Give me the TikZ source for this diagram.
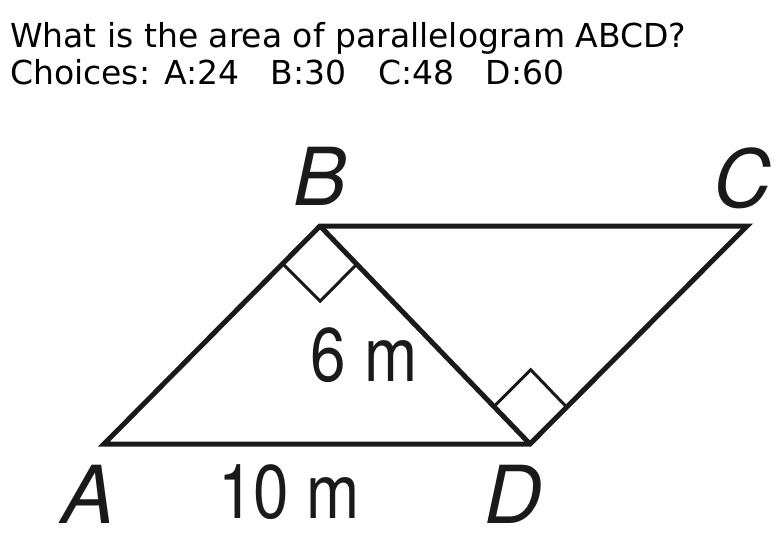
\documentclass[tikz,border=0pt]{standalone}
\usepackage{fontspec}
\usetikzlibrary{calc}
\setmainfont{DejaVu Sans}
\newfontfamily\helv{TeX Gyre Heros}
\definecolor{ink}{HTML}{1A1A1A}
\begin{document}
\begin{tikzpicture}[x=1pt,y=-1pt,
  edge/.style={draw=ink,line width=5pt,line join=miter},
  rightmark/.style={draw=ink,line width=3pt,line join=miter},
  qtext/.style={anchor=base west,inner sep=0pt,font=\fontsize{33}{40}\selectfont},
  ptlabel/.style={anchor=base,inner sep=0pt,text=ink,font=\helv\itshape\fontsize{80}{90}\selectfont},
  lenlabel/.style={anchor=base,inner sep=0pt,text=ink,xscale=0.84,font=\helv\fontsize{76}{90}\selectfont}]
\useasboundingbox (0,0) rectangle (784,538);
\node[qtext] (q1) at (10,47) {What is the area of parallelogram ABCD?};
\node[qtext] (q2) at (10,84) {Choices: A:24\ \ \ B:30\ \ \ C:48\ \ \ D:60};
\coordinate (A) at (104,444);
\coordinate (B) at (320,226);
\coordinate (C) at (747,226);
\coordinate (D) at (530,444);
\draw[edge] (A) -- (B) -- (C) -- (D) -- cycle;
\draw[edge] (B) -- (D);
\draw[rightmark] ($(B)!53pt!(A)$) -- ++(37.5,37.5) -- ($(B)!53pt!(D)$);
\draw[rightmark] ($(D)!52pt!(B)$) -- ++(36.8,-36.8) -- ($(D)!52pt!(C)$);
\node[ptlabel] (lB) at (320,205) {B};
\node[ptlabel] (lC) at (742,207) {C};
\node[ptlabel] (lA) at (88,523) {A};
\node[ptlabel] (lD) at (513,523) {D};
\node[lenlabel] (l10) at (289,518) {10 m};
\node[lenlabel] (l6) at (364,381) {6 m};
\end{tikzpicture}
\end{document}
